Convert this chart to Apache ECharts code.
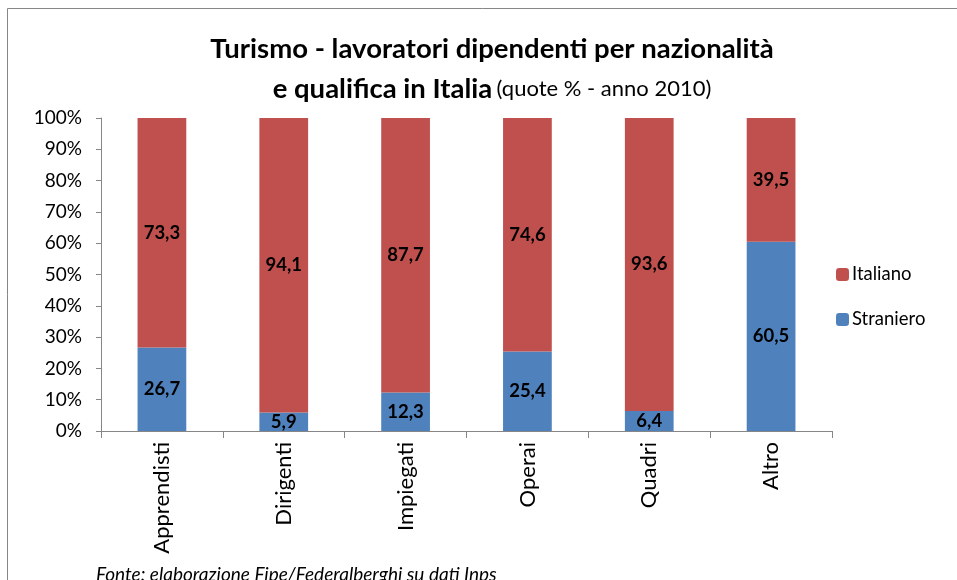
<!DOCTYPE html>
<html>
<head>
<meta charset="utf-8">
<script src="https://cdn.jsdelivr.net/npm/echarts@6/dist/echarts.min.js"></script>
<style>
html,body{margin:0;padding:0;background:#fff;}
#chart{width:957px;height:580px;}
</style>
</head>
<body>
<div id="chart"></div>
<script>
const categories = ['Apprendisti', 'Dirigenti', 'Impiegati', 'Operai', 'Quadri', 'Altro'];
const straniero = [26.7, 5.9, 12.3, 25.4, 6.4, 60.5];
const italiano = [73.3, 94.1, 87.7, 74.6, 93.6, 39.5];
const yTicks = [0, 10, 20, 30, 40, 50, 60, 70, 80, 90, 100];

const FONT = 'Lato, "Open Sans", sans-serif';
const chart = echarts.init(document.getElementById('chart'));
const fmt = p => String(p.value.toFixed(1)).replace('.', ',');

chart.setOption({
  animation: false,
  textStyle: { fontFamily: FONT },
  graphic: [
    { type: 'rect', shape: { x: 7.5, y: 8.5, width: 1000, height: 700 },
      style: { fill: 'none', stroke: '#868686', lineWidth: 1 }, silent: true },
    { type: 'text', left: 96, top: 565,
      style: { text: 'Fonte: elaborazione Fipe/Federalberghi su dati Inps', fontFamily: FONT,
        fontStyle: 'italic', fontSize: 19, fill: '#000' } }
  ],
  title: {
    left: 487,
    textAlign: 'center',
    top: 24,
    text: '{b|Turismo - lavoratori dipendenti per nazionalità}\n{b|e qualifica in Italia} {n|(quote % - anno 2010)}',
    textStyle: {
      rich: {
        b: { fontFamily: FONT, fontWeight: 'bold', fontSize: 27.5, color: '#000', lineHeight: 40 },
        n: { fontFamily: FONT, fontWeight: 'normal', fontSize: 22, color: '#000', lineHeight: 40 }
      }
    }
  },
  legend: {
    orient: 'vertical',
    left: 831,
    top: 260,
    itemWidth: 13,
    itemHeight: 13,
    itemGap: 26,
    data: ['Italiano', 'Straniero'],
    textStyle: { fontFamily: FONT, fontSize: 18.5, color: '#000', padding: [0, 0, 0, -2] }
  },
  grid: { left: 101, right: 125, top: 118, bottom: 149, containLabel: false },
  xAxis: {
    type: 'category',
    data: categories,
    boundaryGap: true,
    axisLine: { show: true, lineStyle: { color: '#868686', width: 1 } },
    axisTick: { show: true, length: 7, alignWithLabel: false, lineStyle: { color: '#868686' } },
    axisLabel: { rotate: 90, fontSize: 22, color: '#000', margin: 11, fontFamily: FONT, interval: 0 }
  },
  yAxis: {
    type: 'value',
    min: 0,
    max: 100,
    interval: 10,
    axisLine: { show: true, lineStyle: { color: '#868686', width: 1 } },
    axisTick: { show: true, length: 5, lineStyle: { color: '#868686' } },
    splitLine: { show: false },
    axisLabel: { fontSize: 19, color: '#000', margin: 19, fontFamily: FONT,
      formatter: v => yTicks.includes(v) ? v + '%' : '' }
  },
  series: [
    { name: 'Straniero', type: 'bar', stack: 's', data: straniero, barWidth: '40%',
      itemStyle: { color: '#4F81BD' },
      label: { show: true, position: 'inside', formatter: fmt, fontWeight: 'bold', fontSize: 18.5, color: '#000', fontFamily: FONT } },
    { name: 'Italiano', type: 'bar', stack: 's', data: italiano, barWidth: '40%',
      itemStyle: { color: '#C0504D' },
      label: { show: true, position: 'inside', formatter: fmt, fontWeight: 'bold', fontSize: 18.5, color: '#000', fontFamily: FONT } }
  ]
});
</script>
</body>
</html>
